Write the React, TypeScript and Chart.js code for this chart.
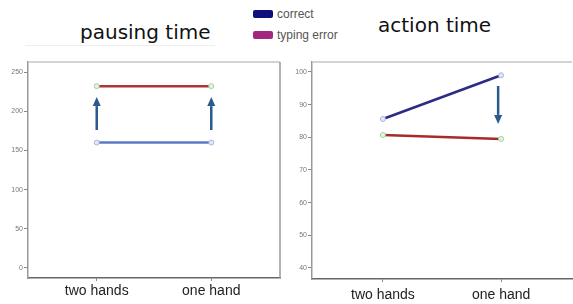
import React, { useEffect, useRef } from "react";
import { Chart, registerables } from "chart.js";

Chart.register(...registerables);

const categories = ["two hands", "one hand"];

// pausing time
const pauseCorrect = [160, 160];
const pauseTypingError = [232, 232];
const pauseTicks = [0, 50, 100, 150, 200, 250];
const pauseArrowX = [0, 1];
const pauseArrowFrom = [176, 176];
const pauseArrowTo = [218, 218];

// action time
const actionCorrect = [85.6, 99.0];
const actionTypingError = [80.7, 79.5];
const actionTicks = [40, 50, 60, 70, 80, 90, 100];
const actionArrowX = [0.975];
const actionArrowFrom = [95.7];
const actionArrowTo = [84.1];

const legendLabels = ["correct", "typing error"];
const legendColors = ["#10107a", "#a0287e"];

type Cfg = {
  correct: number[];
  typing: number[];
  ticks: number[];
  yMin: number;
  yMax: number;
  arrowX: number[];
  arrowFrom: number[];
  arrowTo: number[];
  correctColor: string;
  typingColor: string;
  yWidth: number;
  xHeight: number;
  padRight: number;
  labelPad: number;
  rightBorder: boolean;
};

function LineChart({ cfg, style }: { cfg: Cfg; style: React.CSSProperties }) {
  const ref = useRef<HTMLCanvasElement>(null);
  useEffect(() => {
    const frame = {
      id: "frame",
      beforeDatasetsDraw(chart: any) {
        const { ctx, chartArea: a } = chart;
        ctx.save();
        ctx.lineWidth = 1.5;
        ctx.strokeStyle = "#c4c4c4";
        ctx.beginPath();
        ctx.moveTo(a.left, a.top);
        ctx.lineTo(a.right, a.top);
        ctx.stroke();
        if (cfg.rightBorder) {
          ctx.strokeStyle = "#9a9a9a";
          ctx.beginPath();
          ctx.moveTo(a.right, a.top);
          ctx.lineTo(a.right, a.bottom);
          ctx.stroke();
        }
        ctx.restore();
      },
      afterDatasetsDraw(chart: any) {
        const { ctx } = chart;
        const xs = chart.scales.x;
        const ys = chart.scales.y;
        ctx.save();
        ctx.strokeStyle = "#2b5a8f";
        ctx.fillStyle = "#2b5a8f";
        ctx.lineWidth = 2.5;
        cfg.arrowX.forEach((xv, i) => {
          const x = xs.getPixelForValue(xv);
          const y0 = ys.getPixelForValue(cfg.arrowFrom[i]);
          const y1 = ys.getPixelForValue(cfg.arrowTo[i]);
          const dir = y1 < y0 ? -1 : 1;
          const head = 9;
          ctx.beginPath();
          ctx.moveTo(x, y0);
          ctx.lineTo(x, y1 - dir * head);
          ctx.stroke();
          ctx.beginPath();
          ctx.moveTo(x, y1);
          ctx.lineTo(x - 4, y1 - dir * head);
          ctx.lineTo(x + 4, y1 - dir * head);
          ctx.closePath();
          ctx.fill();
        });
        ctx.restore();
      },
    };
    const chart = new Chart(ref.current!, {
      type: "line",
      data: {
        datasets: [
          {
            label: legendLabels[1],
            data: cfg.typing.map((v, i) => ({ x: i, y: v })),
            borderColor: cfg.typingColor,
            borderWidth: 2.5,
            pointRadius: 2.5,
            pointBorderWidth: 1,
            pointBorderColor: "#9fd49f",
            pointBackgroundColor: "#e6f3e0",
          },
          {
            label: legendLabels[0],
            data: cfg.correct.map((v, i) => ({ x: i, y: v })),
            borderColor: cfg.correctColor,
            borderWidth: 2.5,
            pointRadius: 2.5,
            pointBorderWidth: 1,
            pointBorderColor: "#a8b4e0",
            pointBackgroundColor: "#e4e8f6",
          },
        ],
      },
      options: {
        animation: false,
        responsive: false,
        maintainAspectRatio: false,
        layout: { padding: { top: 12, right: cfg.padRight, left: 0, bottom: 0 } },
        plugins: { legend: { display: false }, tooltip: { enabled: false } },
        scales: {
          x: {
            type: "linear",
            min: -0.6,
            max: 1.6,
            afterBuildTicks: (s: any) => {
              s.ticks = categories.map((_, i) => ({ value: i }));
            },
            afterFit: (s: any) => {
              s.height = cfg.xHeight;
            },
            ticks: {
              callback: (v: any) => categories[v as number],
              color: "#222",
              font: { family: "Liberation Sans", size: 14 },
              padding: cfg.labelPad,
              maxRotation: 0,
              autoSkip: false,
            },
            grid: { drawOnChartArea: false, drawTicks: true, tickLength: 3, color: "#888" },
            border: { display: true, color: "#666", width: 1.5 },
          },
          y: {
            min: cfg.yMin,
            max: cfg.yMax,
            afterBuildTicks: (s: any) => {
              s.ticks = cfg.ticks.map((v) => ({ value: v }));
            },
            afterFit: (s: any) => {
              s.width = cfg.yWidth;
            },
            ticks: {
              color: "#777",
              font: { family: "Liberation Sans", size: 7 },
              padding: 1,
            },
            grid: { drawOnChartArea: false, drawTicks: true, tickLength: 4, color: "#888" },
            border: { display: true, color: "#999", width: 1.5 },
          },
        },
      },
      plugins: [frame],
    } as any);
    return () => chart.destroy();
  }, []);
  return <canvas ref={ref} width={style.width as number} height={style.height as number} style={style} />;
}

export default function App() {
  useEffect(() => {
    document.body.style.margin = "0";
  }, []);
  const title: React.CSSProperties = {
    position: "absolute",
    fontFamily: "DejaVu Sans",
    fontSize: 20,
    color: "#111",
    whiteSpace: "nowrap",
    lineHeight: "24px",
  };
  const legText: React.CSSProperties = {
    position: "absolute",
    fontFamily: "Liberation Sans",
    fontSize: 12,
    color: "#555",
    whiteSpace: "nowrap",
    lineHeight: "14px",
  };
  return (
    <div style={{ position: "relative", width: 573, height: 304, overflow: "hidden", background: "#fff" }}>
      <div style={{ ...title, left: 80, top: 20 }}>pausing time</div>
      <div style={{ ...title, left: 378, top: 13 }}>action time</div>
      <div style={{ position: "absolute", left: 25, top: 45, width: 190, height: 1, background: "#eeeeee" }} />
      {legendLabels.map((l, i) => (
        <React.Fragment key={l}>
          <div
            style={{
              position: "absolute",
              left: 253,
              top: 10 + i * 21,
              width: 20,
              height: 8,
              background: legendColors[i],
              borderRadius: 2,
            }}
          />
          <div style={{ ...legText, left: 277, top: 7 + i * 21 }}>{l}</div>
        </React.Fragment>
      ))}
      <LineChart
        style={{ position: "absolute", left: 0, top: 50, width: 285, height: 254 }}
        cfg={{
          correct: pauseCorrect,
          typing: pauseTypingError,
          ticks: pauseTicks,
          yMin: -12.8,
          yMax: 262.8,
          arrowX: pauseArrowX,
          arrowFrom: pauseArrowFrom,
          arrowTo: pauseArrowTo,
          correctColor: "#5a78c4",
          typingColor: "#b03434",
          yWidth: 28,
          xHeight: 26,
          padRight: 5,
          labelPad: 2,
          rightBorder: true,
        }}
      />
      <LineChart
        style={{ position: "absolute", left: 285, top: 50, width: 292, height: 254 }}
        cfg={{
          correct: actionCorrect,
          typing: actionTypingError,
          ticks: actionTicks,
          yMin: 36.6,
          yMax: 103.05,
          arrowX: actionArrowX,
          arrowFrom: actionArrowFrom,
          arrowTo: actionArrowTo,
          correctColor: "#2c2c84",
          typingColor: "#a82a2a",
          yWidth: 27,
          xHeight: 25,
          padRight: 0,
          labelPad: 5,
          rightBorder: false,
        }}
      />
    </div>
  );
}
